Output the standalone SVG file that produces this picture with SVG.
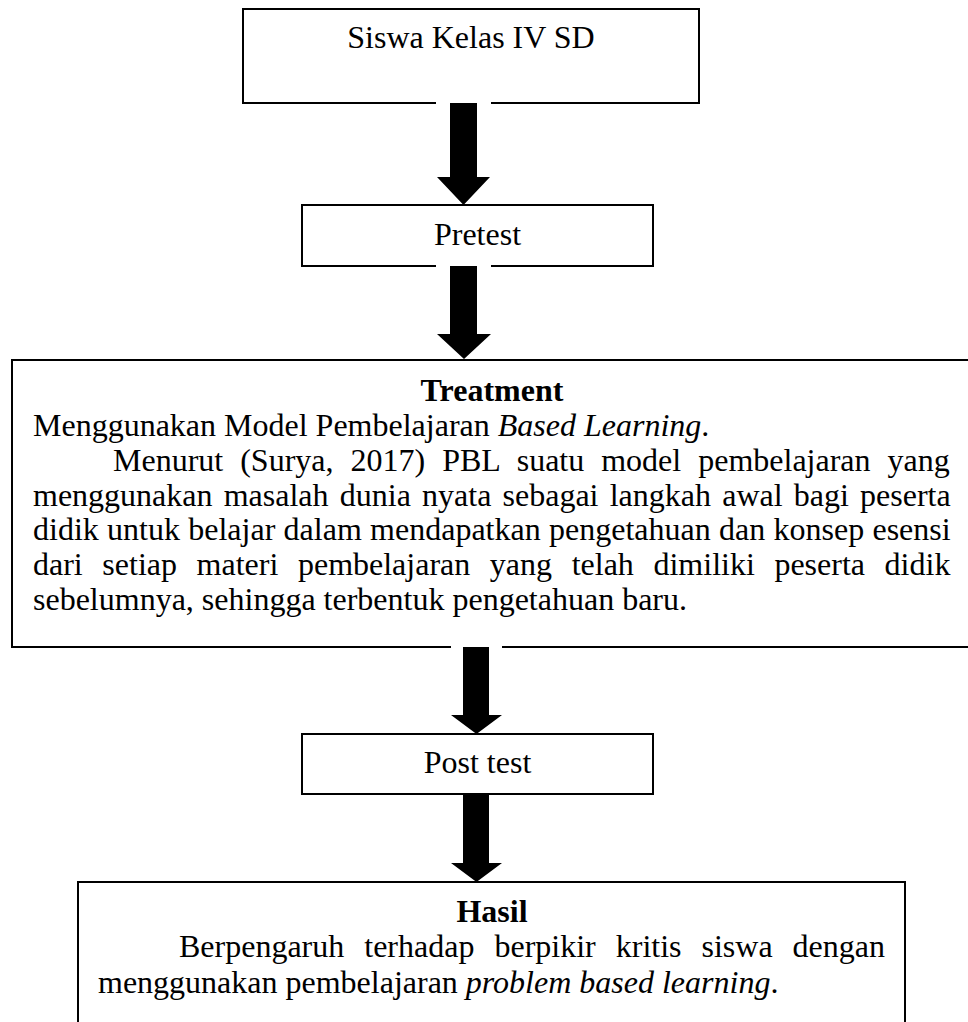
<svg xmlns="http://www.w3.org/2000/svg" width="968" height="1022" viewBox="0 0 968 1022">
<style>
.box{fill:#fff;stroke:#000;stroke-width:2}
.t{font-family:"Liberation Serif","Times New Roman",serif;font-size:32px;fill:#000}
.c{text-anchor:middle}
.b{font-weight:bold}
.i{font-style:italic}
.arrow{fill:#000}
.gap{fill:#fff}
</style>
<rect width="968" height="1022" fill="#fff"/>
<g id="node-siswa">
<rect class="box" x="243" y="9" width="456" height="94"/>
<text class="t c" x="471" y="48">Siswa Kelas IV SD</text>
</g>
<g id="node-pretest">
<rect class="box" x="302" y="205" width="351" height="61"/>
<text class="t c" x="477.5" y="245">Pretest</text>
</g>
<g id="node-treatment">
<rect class="box" x="12" y="360" width="970" height="287"/>
<text class="t c b" x="492" y="401">Treatment</text>
<text class="t" x="33" y="436">Menggunakan Model Pembelajaran <tspan class="i">Based Learning</tspan>.</text>
<text class="t" x="113" y="471" word-spacing="9">Menurut (Surya, 2017) PBL suatu model pembelajaran yang</text>
<text class="t" x="33" y="506" word-spacing="3.2">menggunakan masalah dunia nyata sebagai langkah awal bagi peserta</text>
<text class="t" x="33" y="540" word-spacing="0.3">didik untuk belajar dalam mendapatkan pengetahuan dan konsep esensi</text>
<text class="t" x="33" y="575" word-spacing="11.6">dari setiap materi pembelajaran yang telah dimiliki peserta didik</text>
<text class="t" x="33" y="610">sebelumnya, sehingga terbentuk pengetahuan baru.</text>
</g>
<g id="node-posttest">
<rect class="box" x="302" y="734" width="351" height="60"/>
<text class="t c" x="477.5" y="773">Post test</text>
</g>
<g id="node-hasil">
<rect class="box" x="78" y="882" width="827" height="160"/>
<text class="t c b" x="492" y="922">Hasil</text>
<text class="t" x="179" y="957" word-spacing="12">Berpengaruh terhadap berpikir kritis siswa dengan</text>
<text class="t" x="98" y="993">menggunakan pembelajaran <tspan class="i">problem based learning</tspan>.</text>
</g>
<g id="connectors">
<rect class="gap" x="436" y="101" width="55" height="4"/>
<polygon class="arrow" points="450,103 477,103 477,177 490,177 463.5,205 437,177 450,177"/>
<rect class="gap" x="436" y="264" width="55" height="4"/>
<polygon class="arrow" points="450,266 477,266 477,334 491,334 464,359 437,334 450,334"/>
<rect class="gap" x="451" y="645" width="51" height="4"/>
<polygon class="arrow" points="463,647 489,647 489,715 502,715 476.5,734 451,715 463,715"/>
<polygon class="arrow" points="463,795 489,795 489,863 502,863 476.5,882 451,863 463,863"/>
</g>
</svg>
